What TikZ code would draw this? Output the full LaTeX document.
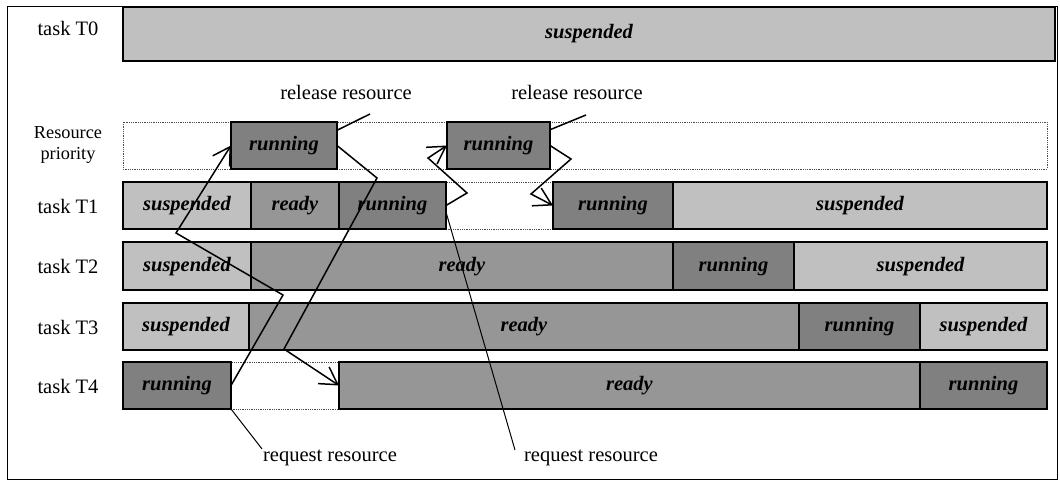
\documentclass[tikz,border=0pt]{standalone}
\usepackage{fontspec}
\setmainfont{Liberation Serif}
\usetikzlibrary{arrows.meta}
\definecolor{suspgray}{RGB}{192,192,192}
\definecolor{readygray}{RGB}{150,150,150}
\definecolor{rungray}{RGB}{128,128,128}
\tikzset{
  seg/.style={draw, line width=1.2pt, inner sep=0pt, outer sep=0pt, anchor=north west,
    minimum height=47, text height=14pt, text depth=4pt,
    font=\fontsize{20.5}{24}\selectfont\bfseries\itshape},
  suspbox/.style={seg, fill=suspgray},
  readybox/.style={seg, fill=readygray},
  runbox/.style={seg, fill=rungray},
  gapbox/.style={draw=black!70, densely dotted, line width=0.8pt},
  lbl/.style={font=\fontsize{20.5}{24}\selectfont, inner sep=1pt},
  flow/.style={line width=1.5pt, -{Straight Barb[length=17pt,width=20pt,line width=1.5pt]}},
  tick/.style={line width=1.5pt},
  req/.style={line width=1pt}
}
\begin{document}
\begin{tikzpicture}[x=1pt,y=-1pt]
\useasboundingbox (0,0) rectangle (1060,481);
\draw[line width=1pt] (7,7) rectangle (1057,479);

% row labels
\node[lbl] (l0) at (68,28) {task T0};
\node[lbl, align=center, font=\fontsize{18.3}{21}\selectfont] (lr) at (68,145) {Resource\\priority};
\node[lbl] (l1) at (68,206) {task T1};
\node[lbl] (l2) at (68,266) {task T2};
\node[lbl] (l3) at (68,327) {task T3};
\node[lbl] (l4) at (68,386) {task T4};

% dotted empty slots
\draw[gapbox] (123,122) rectangle (1047,169);
\draw[gapbox] (446,182) rectangle (553,229);
\draw[gapbox] (231,362) rectangle (339,409);

% task T0
\node[suspbox, minimum width=932, minimum height=54] (t0) at (123,7) {suspended};

% resource priority
\node[runbox, minimum width=106] (r1) at (231,122) {running};
\node[runbox, minimum width=103] (r2) at (447,122) {running};

% task T1
\node[suspbox, minimum width=128] (t1a) at (123,182) {suspended};
\node[readybox, minimum width=88] (t1b) at (251,182) {ready};
\node[runbox, minimum width=107] (t1c) at (339,182) {running};
\node[runbox, minimum width=120] (t1d) at (553,182) {running};
\node[suspbox, minimum width=374] (t1e) at (673,182) {suspended};

% task T2
\node[suspbox, minimum width=128, minimum height=48] (t2a) at (123,242) {suspended};
\node[readybox, minimum width=422, minimum height=48] (t2b) at (251,242) {ready};
\node[runbox, minimum width=121, minimum height=48] (t2c) at (673,242) {running};
\node[suspbox, minimum width=253, minimum height=48] (t2d) at (794,242) {suspended};

% task T3
\node[suspbox, minimum width=126] (t3a) at (123,303) {suspended};
\node[readybox, minimum width=550] (t3b) at (249,303) {ready};
\node[runbox, minimum width=121] (t3c) at (799,303) {running};
\node[suspbox, minimum width=127] (t3d) at (920,303) {suspended};

% task T4
\node[runbox, minimum width=108] (t4a) at (123,362) {running};
\node[readybox, minimum width=581] (t4b) at (339,362) {ready};
\node[runbox, minimum width=127] (t4c) at (920,362) {running};

% event labels
\node[lbl] (rel1) at (346,92) {release resource};
\node[lbl] (rel2) at (577,92) {release resource};
\node[lbl] (req1) at (330,458) {request resource};
\node[lbl] (req2) at (591,458) {request resource};

% transfers
\coordinate (a1) at (283,295);
\coordinate (a2) at (176,233);
\draw[flow] (t4a.east) -- (a1) -- (a2) -- (r1.west);
\coordinate (b1) at (377,178);
\coordinate (b2) at (284,349);
\draw[flow] (r1.east) -- (b1) -- (b2) -- (t4b.west);
\coordinate (c1) at (467,193);
\coordinate (c2) at (428,158);
\draw[flow] (t1c.east) -- (c1) -- (c2) -- (r2.west);
\coordinate (d1) at (571,159);
\coordinate (d2) at (531,194);
\draw[flow] (r2.east) -- (d1) -- (d2) -- (t1d.west);

% pointers to the event labels
\coordinate (e1) at (370,114);
\coordinate (e2) at (586,115);
\draw[tick] (r1.16) -- (e1);
\draw[tick] (r2.17) -- (e2);
\coordinate (f1) at (515,450);
\draw[req] (t4a.south east) -- (req1.north west);
\draw[req] (t1c.-7) -- (f1);
\end{tikzpicture}
\end{document}
